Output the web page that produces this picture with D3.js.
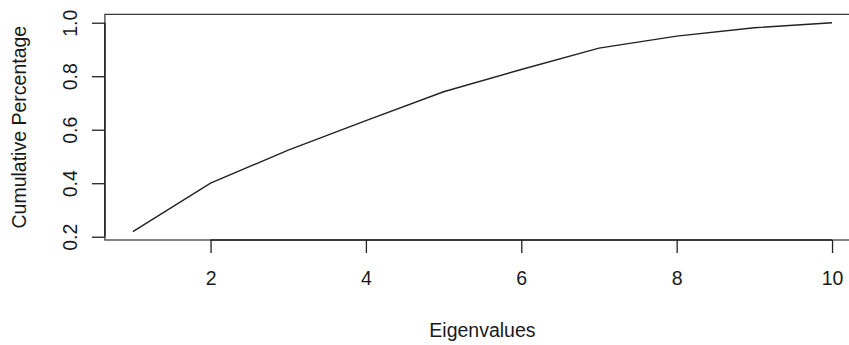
<!DOCTYPE html>
<html>
<head>
<meta charset="utf-8">
<script src="https://cdn.jsdelivr.net/npm/d3@7"></script>
<style>
  html, body { margin: 0; padding: 0; background: #fff; }
  svg { display: block; }
  text { font-family: "Liberation Sans", Arial, sans-serif; fill: #1a1a1a; }
</style>
</head>
<body>
<svg id="chart"></svg>
<script>
const width = 849;
const height = 345;

// values
const eigenIndex = [1, 2, 3, 4, 5, 6, 7, 8, 9, 10];
const cumulative = [0.219, 0.400, 0.524, 0.634, 0.742, 0.825, 0.905, 0.950, 0.981, 1.000];
const xTicks = [2, 4, 6, 8, 10];
const yTicks = [0.2, 0.4, 0.6, 0.8, 1.0];
const xLabel = 'Eigenvalues';
const yLabel = 'Cumulative Percentage';

const fontSize = 19.5;
const tickLen = 13;

const svg = d3.select('#chart')
  .attr('width', width)
  .attr('height', height);

// R style: plot region extends 4% beyond the data range
function pad(ext) {
  const d = (ext[1] - ext[0]) * 0.04;
  return [ext[0] - d, ext[1] + d];
}

const x = d3.scaleLinear()
  .domain(pad(d3.extent(eigenIndex)))
  .range([104.9, 860]);

const y = d3.scaleLinear()
  .domain(pad(d3.extent(cumulative)))
  .range([240, 14.35]);

const [x0, x1] = x.range();
const [yb, yt] = y.range();

// box (right side runs off the picture)
svg.append('rect')
  .attr('x', x0)
  .attr('y', yt)
  .attr('width', x1 - x0)
  .attr('height', yb - yt)
  .attr('fill', 'none')
  .attr('stroke', '#333')
  .attr('stroke-width', 1.2);

// x axis
const gx = svg.append('g')
  .attr('transform', `translate(0, ${yb})`)
  .call(d3.axisBottom(x)
    .tickValues(xTicks)
    .tickSize(tickLen)
    .tickPadding(18)
    .tickFormat(d3.format('d')));
gx.select('.domain').remove();
gx.selectAll('.tick line').attr('stroke', '#222').attr('stroke-width', 1.3);
gx.selectAll('.tick text').attr('font-size', fontSize).attr('font-family', null);
gx.append('line')
  .attr('x1', x(xTicks[0]))
  .attr('x2', x(xTicks[xTicks.length - 1]))
  .attr('stroke', '#222')
  .attr('stroke-width', 1.5);

// y axis
const gy = svg.append('g')
  .attr('transform', `translate(${x0}, 0)`)
  .call(d3.axisLeft(y)
    .tickValues(yTicks)
    .tickSize(tickLen)
    .tickFormat(d3.format('.1f')));
gy.select('.domain').remove();
gy.selectAll('.tick line').attr('stroke', '#222').attr('stroke-width', 1.3);
gy.selectAll('.tick text')
  .attr('font-size', fontSize)
  .attr('font-family', null)
  .attr('transform', 'rotate(-90)')
  .attr('x', 0)
  .attr('y', -28)
  .attr('dy', null)
  .attr('text-anchor', 'middle');
gy.append('line')
  .attr('y1', y(yTicks[0]))
  .attr('y2', y(yTicks[yTicks.length - 1]))
  .attr('stroke', '#222')
  .attr('stroke-width', 1.5);

// cumulative line
svg.append('path')
  .datum(eigenIndex.map((d, i) => ({ x: d, y: cumulative[i] })))
  .attr('fill', 'none')
  .attr('stroke', '#222')
  .attr('stroke-width', 1.4)
  .attr('d', d3.line()
    .x(d => x(d.x))
    .y(d => y(d.y)));

// axis titles
svg.append('text')
  .attr('x', (x0 + x1) / 2)
  .attr('y', 336.5)
  .attr('text-anchor', 'middle')
  .attr('font-size', fontSize)
  .text(xLabel);

svg.append('text')
  .attr('transform', `translate(26, ${(yb + yt) / 2}) rotate(-90)`)
  .attr('text-anchor', 'middle')
  .attr('font-size', fontSize)
  .text(yLabel);
</script>
</body>
</html>
